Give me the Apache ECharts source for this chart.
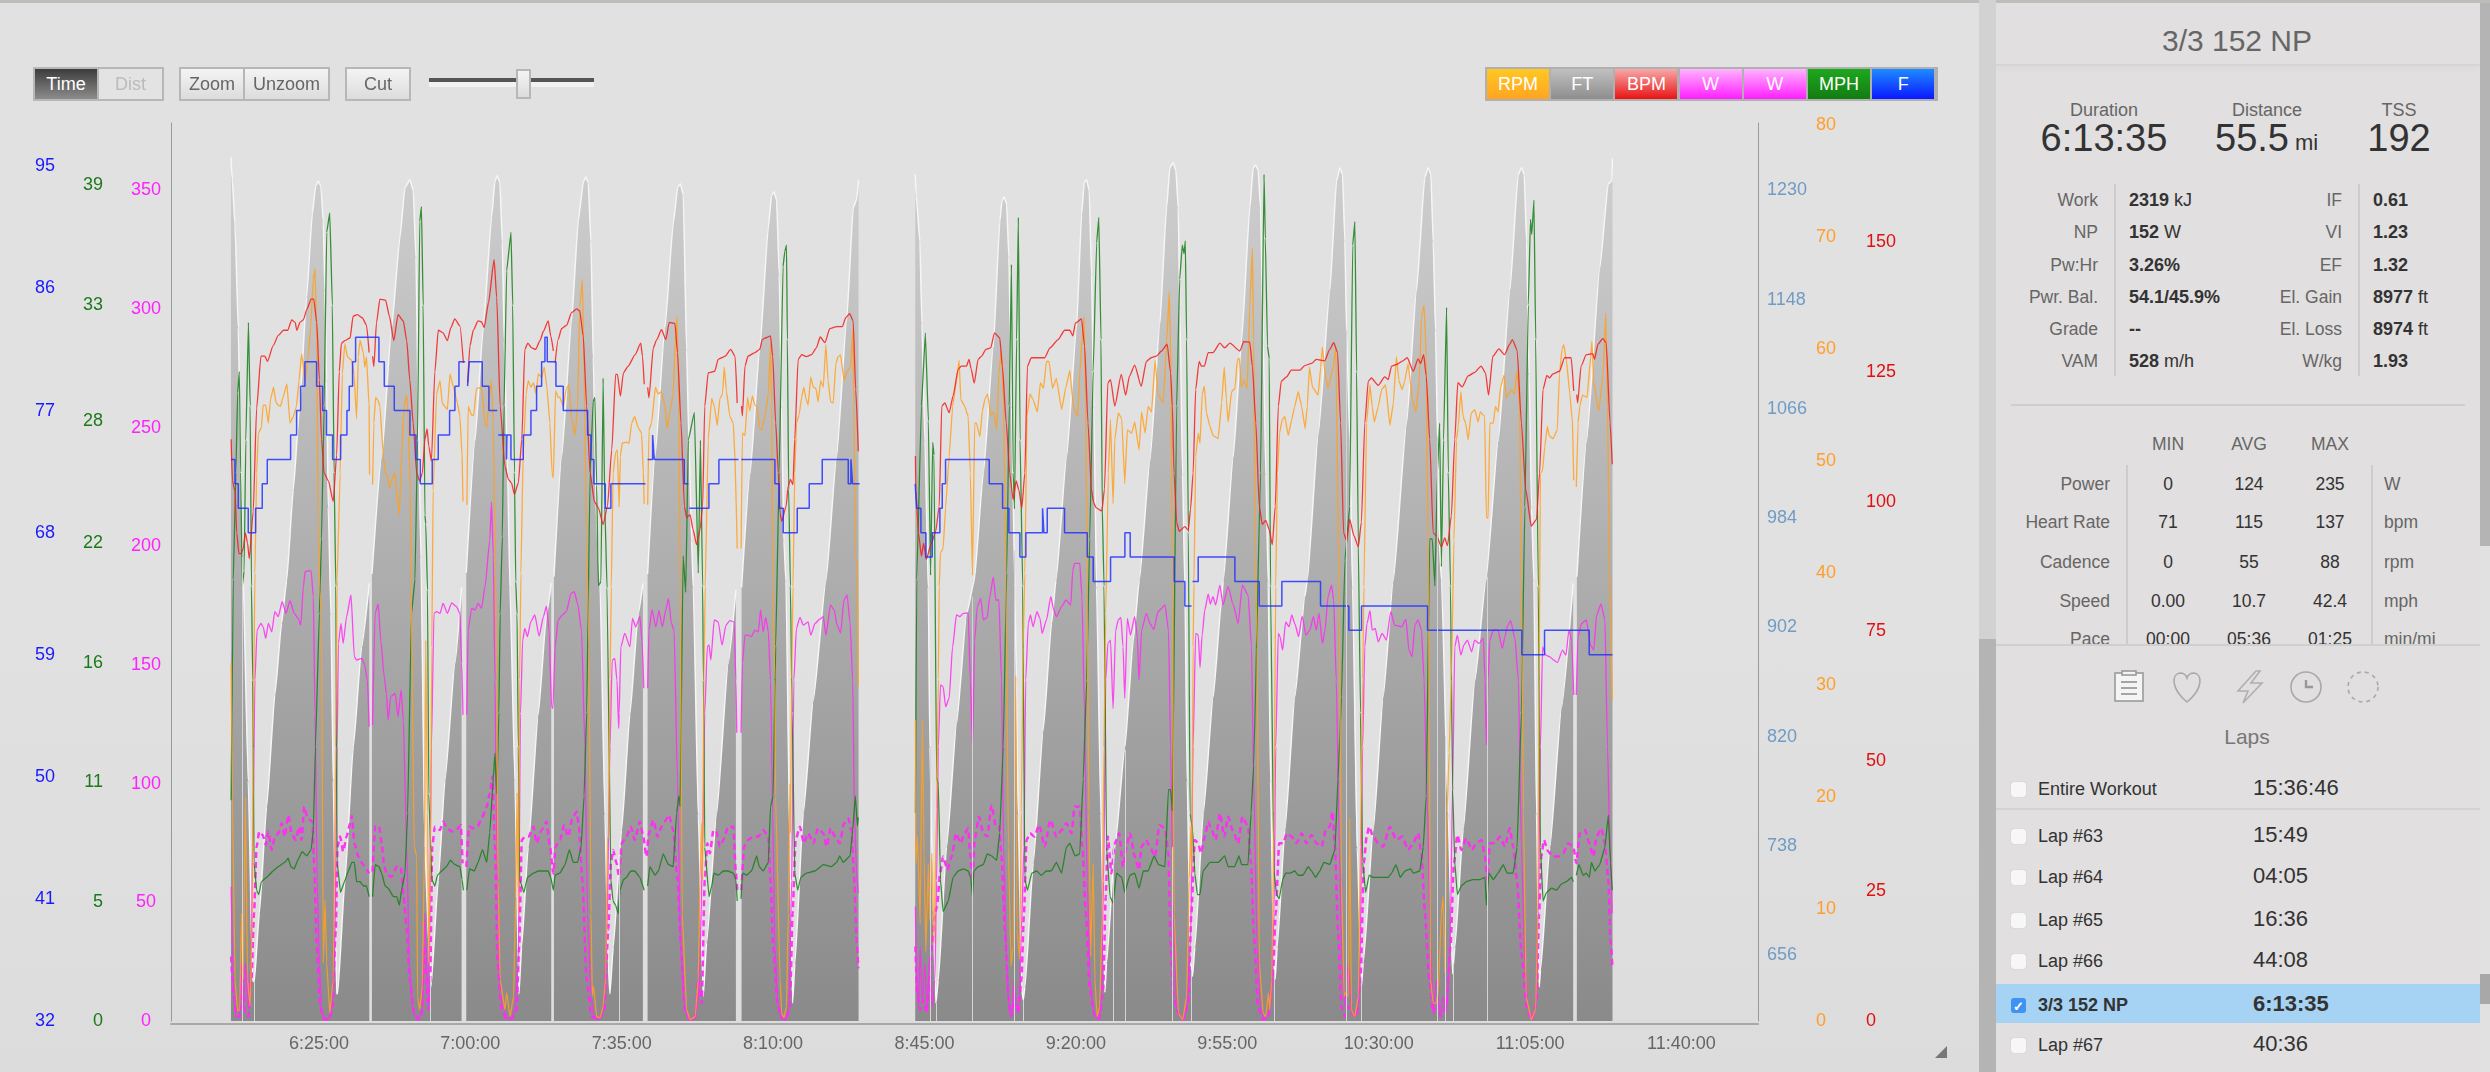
<!DOCTYPE html>
<html>
<head>
<meta charset="utf-8">
<title>3/3 152 NP</title>
<script src="https://cdn.jsdelivr.net/npm/echarts@6/dist/echarts.min.js"></script>
<style>
html, body { margin: 0; padding: 0; width: 2490px; height: 1072px; overflow: hidden; background: linear-gradient(#e2e1e1, #e2e1e1 60%, #dddcdc); font-family: "Liberation Sans", sans-serif; }
#chart { position: absolute; left: 0; top: 0; width: 2490px; height: 1072px; }
.box { position: absolute; box-sizing: border-box; }
.txt { position: absolute; white-space: pre; line-height: 1; }
.btn { position: absolute; box-sizing: border-box; height: 34px; top: 67px; border: 2px solid #b7b7b7; background: linear-gradient(#f4f4f4, #dcdcdc); color: #666; font-size: 18px; line-height: 30px; text-align: center; }
.leg { position: absolute; top: 69px; height: 30px; width: 62px; color: #fff; font-size: 18px; line-height: 30px; text-align: center; }
</style>
</head>
<body>
<div id="chart"></div>
<div id="ui"></div>
<script>
// tick labels
const timeTicks = [385, 420, 455, 490, 525, 560, 595, 630, 665, 700]
const tempTicks = [32, 41, 50, 59, 68, 77, 86, 95]
const speedTicks = [0, 5.57, 11.14, 16.71, 22.28, 28, 33.42, 39]
const powerTicks = [0, 50, 100, 150, 200, 250, 300, 350]
const elevTicks = [656, 738, 820, 902, 984, 1066, 1148, 1230]
const cadenceTicks = [0, 10, 20, 30, 40, 50, 60, 70, 80]
const hrTicks = [0, 25, 50, 75, 100, 125, 150]

// all series are [minute of day, value], null marks a pause in the recording
const elevation = [[364.66,1255],[364.97,1238],[365.58,1205],[366.35,1127],[366.97,1017],[367.35,955],[368.66,787],[369.67,637],[370.05,636],[371.21,687],[372.9,767],[374.83,852],[376.37,905],[377.53,937],[379.07,1005],[380.61,1072],[382.15,1150],[383.46,1212],[384.23,1233],[384.85,1237],[385.46,1233],[386,1207],[386.39,1155],[386.77,1087],[387.16,992],[387.77,912],[388.31,787],[389.09,627],[389.32,627],[391.01,712],[392.94,812],[394.86,887],[396.64,935],[397,null],[397.25,942],[399.49,1030],[401.8,1127],[403.73,1195],[404.88,1232],[406.04,1238],[406.81,1230],[407.43,1180],[407.96,1067],[408.58,955],[409.5,737],[410.43,662],[410.9,632],[412.59,712],[414.13,787],[416.44,875],[417.98,932],[418.5,null],[419.06,943],[421.07,1042],[422.99,1127],[424.92,1210],[425.69,1237],[426.23,1241],[426.84,1236],[427.38,1192],[427.85,1117],[428.62,1017],[429.16,932],[430.31,787],[431.24,627],[431.85,662],[433.39,737],[435.71,837],[437.63,912],[438.71,935],[439,null],[439.33,940],[441.1,1030],[443.41,1132],[444.95,1207],[446.11,1236],[446.65,1240],[447.26,1236],[447.88,1192],[448.42,1105],[449.19,980],[449.96,937],[451.12,762],[451.89,650],[452.27,627],[453.04,662],[454.97,750],[456.9,837],[458.82,912],[459.9,935],[460.4,null],[460.98,942],[462.68,1030],[464.99,1127],[466.92,1205],[467.92,1232],[468.53,1235],[469.23,1227],[470,1110],[470.54,1042],[471.15,967],[471.54,932],[472.7,762],[473.85,625],[474.62,665],[476.93,762],[479.63,875],[481.4,930],[482,null],[482.71,932],[484.64,1017],[486.95,1112],[488.88,1202],[489.65,1226],[490.19,1229],[490.8,1223],[491.42,1167],[491.96,1067],[492.5,967],[492.96,937],[493.89,737],[494.5,620],[495.04,650],[496.97,762],[499.28,847],[502.21,937],[504.67,1030],[506.99,1132],[508.53,1217],[509.3,1223],[509.76,1238],[510,null],[522.86,1242],[523.09,1226],[523.94,1192],[524.4,1130],[525.1,1042],[525.87,932],[526.25,812],[527.02,687],[527.64,620],[528.18,637],[530.1,737],[532.42,830],[534.73,912],[536.5,937],[538.58,1017],[540.89,1112],[542.43,1207],[542.9,1222],[543.36,1225],[543.98,1220],[544.51,1180],[545.13,1067],[545.9,932],[546.67,762],[547.44,632],[547.83,622],[548.21,632],[550.14,725],[552.45,825],[554.38,905],[555.38,937],[557.85,1030],[560.16,1127],[561.32,1212],[561.93,1236],[562.47,1238],[563.09,1230],[563.62,1167],[564.16,1067],[564.78,932],[565.78,762],[566.71,628],[567.09,650],[569.02,737],[571.33,812],[573.26,892],[574.65,937],[577.11,1027],[579.42,1130],[580.96,1217],[581.73,1247],[582.5,1251],[583.12,1245],[583.66,1217],[584.04,1142],[584.66,1017],[585.2,932],[585.74,787],[586.51,650],[586.97,640],[587.51,662],[589.44,762],[591.75,850],[593.67,922],[594.06,937],[596.37,1030],[598.3,1117],[600.22,1217],[600.99,1247],[601.53,1249],[602.15,1245],[602.69,1217],[603.31,1117],[603.92,1017],[604.46,937],[605,787],[605.77,650],[606.08,638],[606.54,662],[608.32,750],[610.63,850],[612.94,925],[613.48,937],[616.02,1047],[618.72,1155],[620.26,1237],[621.03,1247],[621.65,1242],[622.19,1192],[622.57,1125],[623.34,1042],[623.96,932],[625.04,737],[626.04,633],[626.43,650],[628.74,750],[631.05,850],[633.36,937],[636.44,1055],[638.75,1155],[640.68,1240],[641.45,1247],[642.07,1242],[642.61,1192],[643.15,1125],[643.61,1042],[644,967],[644.53,937],[646.07,762],[647.08,642],[647.62,662],[649.54,750],[652.24,862],[654.78,937],[657.63,1042],[660.33,1155],[662.26,1242],[663.03,1247],[663.65,1242],[664.19,1192],[664.8,1092],[665.34,992],[665.88,937],[666.5,762],[667.11,632],[667.42,645],[669.57,737],[672.27,842],[674.97,935],[675.4,null],[675.82,940],[678.06,1042],[681.14,1172],[683.07,1235],[683.91,1237],[684.06,1254]]

// short lap breaks in the recording: [minute, elevation where the mark stops]
const lapBreaks = [[367.35,955],[370.05,636],[410.82,640],[454.4,730],[526.25,812],[527.8,620],[536.04,925],[545.67,960],[547.83,622],[568.63,740],[571.33,810],[582.27,737],[586.74,645],[605.85,645],[622.57,1125],[625.88,640],[643.53,1045],[645.3,820],[647.23,650],[655.09,940]]

const temperature = [[364.66,73.4],[365.58,71.6],[366.35,69.8],[368.66,68],[370.36,69.8],[371.9,71.6],[373.06,73.4],[378.45,75.2],[379.84,77],[380.76,78.8],[381.76,80.6],[384.46,78.8],[385.85,77],[386.77,75.2],[388.16,73.4],[390.01,75.2],[391.47,77],[392.01,78.8],[392.78,80.6],[393.48,82.4],[398.87,80.6],[400.11,78.8],[402.42,77],[406.04,75.2],[407.43,73.4],[408.43,71.6],[411.2,73.4],[412.59,75.2],[415.21,77],[416.44,78.8],[417.37,80.6],[418.29,80.6],[418.8,null],[419.37,78.8],[419.75,80.6],[422.76,78.8],[424.3,77],[426.23,77],[426.3,null],[426.46,75.2],[428.38,73.4],[428.46,75.2],[429.39,73.4],[432.24,75.2],[434.01,77],[435.32,78.8],[436.48,80.6],[437.25,82.4],[437.79,80.6],[439.79,78.8],[441.49,77],[447.11,75.2],[447.88,73.4],[448.57,71.6],[451.2,69.8],[452.5,71.6],[460.2,71.6],[460.5,null],[460.98,73.4],[462.14,75.2],[462.52,73.4],[469.46,71.6],[470.23,71.6],[470.4,null],[470.62,69.8],[475.16,71.6],[477.47,73.4],[481.56,73.4],[482,null],[482.64,73.4],[490.42,71.6],[491.42,69.8],[492.35,68],[495.58,69.8],[498.36,71.6],[501.36,73.4],[507.37,71.6],[507.99,73.4],[508.37,71.6],[509.76,71.6],[510,null],[522.86,71.6],[523.17,69.8],[524.17,68],[525.33,66.2],[526.79,68],[528.56,69.8],[529.1,71.6],[529.87,73.4],[539.97,71.6],[543.05,69.8],[544.51,68],[547.06,66.2],[548.44,68],[552.3,69.8],[552.6,68],[553.38,69.8],[557.38,68],[562.63,66.2],[564.01,64.4],[568.02,66.2],[571.33,68],[572.56,66.2],[582.74,64.4],[585.2,62.6],[586.74,62.6],[586.85,null],[586.97,64.4],[588.28,66.2],[596.76,64.4],[602.38,62.6],[607.62,64.4],[616.56,62.6],[623.11,60.8],[626.04,62.6],[641.3,60.8],[663.1,59],[668.35,60.8],[678.67,59],[684.06,59]]

const heartRate = [[364.7,112],[365,104],[365.6,102],[366,94],[366.5,90],[367,90],[367.5,91],[368,94],[368.5,92],[368.9,89],[369.8,98],[370.6,118],[371.6,128],[372.5,128],[373.1,127],[374.4,130],[375.6,132],[376.8,133],[377.8,133],[378.7,135],[379.5,134.5],[379.9,133],[380.6,134.5],[381.4,135],[382.2,137],[383.2,139],[383.8,139],[384.5,134.5],[385.1,123.5],[385.6,112],[386.2,105.5],[387.2,104],[388.3,100],[389.1,109],[389.7,125],[390.2,130.5],[391,131],[392.2,131.5],[392.9,135.7],[393.9,136],[395,135.4],[396,134],[396.6,128.7],[397,null],[397.4,128],[397.7,126],[398.3,134.4],[399.1,139],[400.4,138.8],[401.3,135.7],[402.3,131],[403.3,136],[404.5,134.8],[405.3,131],[406,123.5],[406.8,115],[407.6,105.5],[408.3,104],[408.9,105.5],[409.5,112],[410,114],[410.4,110.7],[411,107.8],[411.8,125],[412.6,133],[413.7,132.5],[414.7,131],[415.5,133.5],[416.4,135.2],[417.6,133.8],[418.4,126.7],[418.9,null],[419.4,123],[419.9,130],[420.7,133],[421.8,134.8],[422.6,134.6],[423.2,133.5],[424.2,138.3],[425.5,146.6],[426.1,139.3],[426.9,118.4],[428,106.8],[428.8,104.3],[429.5,103.6],[430.2,101.4],[431.1,103.6],[431.9,112],[432.6,129.3],[433.3,130.5],[434.2,129.6],[435.1,129.3],[436.1,131],[436.9,132.8],[438,134.8],[438.6,131.9],[439.2,129],[439.4,null],[439.6,126.7],[440.3,131.2],[441.1,133.3],[442.3,134],[443.4,136.4],[444.6,137.1],[445.3,136.7],[446.1,131.9],[446.9,118.4],[447.7,105.5],[448.7,100],[449.6,98.8],[450.7,95.6],[451.7,99.1],[452.7,110],[453.6,124.5],[454,124.5],[454.7,120.3],[455.4,124.8],[456.5,126.1],[458.1,128.3],[459.4,130.5],[459.8,128],[460.2,122.6],[460.6,null],[461,122],[461.3,120],[462.3,129.6],[463.1,131.2],[464.2,133.1],[465.2,131.2],[466,134.5],[467.3,134.3],[467.9,128.7],[468.7,115.2],[469.5,99.1],[470,96.9],[470.8,97.5],[471.5,94.6],[472.3,91.7],[473.1,94.6],[473.7,99],[474.2,118.4],[475,124.8],[476.5,125.1],[477.3,127.4],[478.1,127.7],[478.9,128],[480.2,129.3],[481.2,128],[481.7,119],[482.2,null],[482.7,118.4],[482.9,116.5],[483.5,126.1],[484.2,128],[485.8,128.7],[486.9,129.3],[487.5,131.2],[488.5,131.6],[489.4,131.9],[489.9,128],[490.6,115.2],[491.2,105.5],[491.6,97.8],[492,96.2],[493,99.1],[493.5,103],[494,104.3],[494.6,103.3],[495,112],[495.8,127.4],[496.6,128.3],[497.7,127.9],[498.9,128.3],[500,129.6],[500.9,131.7],[502,130.6],[503.1,133.3],[504.7,133.7],[506,133.7],[506.8,135.4],[507.7,136.2],[508.5,134.8],[509.1,121.6],[509.7,109.7],[510,null],[522.9,108.8],[523,102.3],[523.6,94],[524.3,89.5],[524.8,92],[525.4,88.9],[526.6,92],[527.6,94.3],[528.4,99.1],[529,118.4],[529.7,119],[530.7,117.1],[531.6,120.3],[532.8,125.5],[533.5,126.1],[534.7,126.1],[535.3,127.4],[535.8,125.5],[536.5,122.8],[537.4,127.4],[538.2,128],[539.2,129.3],[540.3,129.6],[541.2,132.5],[542.4,131.5],[543,126.1],[543.9,115.2],[544.7,105.5],[545.5,100.4],[546.2,104],[546.8,102.3],[547.5,98.8],[548.2,105.5],[548.8,126.1],[549.7,127.7],[551.3,127.7],[552.8,127.7],[554,129.6],[555.9,131.2],[557.4,133],[558.6,133],[559.3,131.9],[559.9,134.4],[561.3,135.2],[562,130],[562.8,115.2],[563.6,102.3],[564.1,99.8],[564.7,98.8],[566,98.2],[566.6,102.3],[567.4,122.9],[568,123.5],[569,118.4],[570.5,124.5],[571.5,120.5],[572.4,124.2],[573.6,126.3],[575.1,122.2],[576.3,127],[577.4,127.7],[578.6,128],[579.8,129],[581.1,130.3],[581.9,124.8],[582.3,118.4],[582.7,105.5],[583.3,96],[583.9,94.3],[585.2,95.2],[586,94.5],[586.5,98.5],[587.1,105.5],[587.7,121.6],[588.5,127],[589,126.1],[589.7,126.1],[590.6,128.7],[591.7,128.7],[593.3,130.5],[594.4,129.6],[595.6,130.5],[597.9,129],[598.8,130.8],[600.2,130.7],[600.8,126.1],[601.6,115.2],[602.4,99.1],[603.1,95.6],[603.9,96.4],[604.7,94.6],[605.4,91.7],[606.1,99.1],[606.8,118.4],[607.5,123.2],[608.7,124],[609.8,125.3],[611.8,125.3],[612.9,126.2],[614.5,126.6],[615.6,127.4],[617.5,127.1],[618.7,129.3],[619.6,130.6],[620.5,128.7],[621.2,115.2],[621.9,94],[622.6,92.4],[623.3,96.6],[624.3,93.4],[625.3,91.3],[626,96],[626.8,115.2],[627.6,123.2],[628.3,123.8],[629.9,122.4],[631.4,124],[632.2,123.5],[633,126.1],[634.1,126.4],[635.6,127.1],[636.6,127.7],[638,125.1],[639.1,127.5],[639.7,126.6],[640.4,128.3],[641,124.2],[641.8,112],[642.6,94],[643.4,93.4],[644.5,91.3],[645.3,93],[645.9,91.5],[646.8,97.2],[647.6,112],[648.3,122.9],[649.3,122.1],[650.7,124.2],[652.2,124.9],[653.7,126.1],[654.7,124.8],[655.4,120.5],[656.4,128],[657.8,129.4],[659.1,128.3],[660.3,130.3],[660.9,131.2],[662,129.2],[663,115.2],[664,102.3],[665.3,95.3],[666.5,96.6],[667.2,105.5],[668,121.6],[668.9,124.3],[669.5,123.8],[670.3,124.6],[671.8,125.1],[673,127.7],[674.5,127.7],[675.1,121.3],[675.5,null],[675.8,120.6],[676,119],[676.8,126.1],[678,128.3],[679.5,128.5],[679.9,127.4],[680.7,130.3],[681.8,131.4],[682.6,130.6],[683.5,115.2],[684,107.2]]

const cadence = [[364.7,32],[365,20],[365.6,3.7],[366.2,0.9],[366.7,1],[367.1,9.6],[367.5,3.7],[368,20],[368.5,3.7],[369.1,1.3],[369.6,9.6],[369.8,24.5],[370.2,40],[370.6,48.9],[371,52.5],[371.7,53],[372.1,55],[372.7,55],[373.3,53.4],[373.8,55.5],[374.5,56.6],[375.1,55.2],[375.6,55],[376.1,54.9],[376.7,55.7],[377.6,56.9],[378.3,53.4],[379.1,54],[379.8,54.9],[380.4,57.2],[381,59.6],[381.8,57.2],[382.5,59.3],[383.1,62],[383.7,66.2],[384.1,67.2],[384.5,60.8],[384.8,44.4],[385.2,38.5],[385.6,36.4],[386,5.2],[386.4,10.8],[386.8,5.2],[387.5,0.7],[388.3,3.7],[388.9,24.5],[389.2,39.4],[389.9,48.9],[390.4,57.8],[391,60.5],[391.6,59.3],[392.6,59],[393.1,57.8],[393.7,53.8],[394.1,59.3],[394.5,60.8],[395.3,59.6],[395.6,58.4],[396,59.3],[396.6,54.9],[396.7,48.8],[397,null],[397.4,47.9],[397.7,53.4],[398.1,55.7],[398.7,55.4],[399.1,54.9],[399.9,50.4],[400.4,48.9],[400.9,48.6],[401.3,47.6],[401.8,48.3],[402.6,49],[402.9,47.4],[403.6,45.2],[404.1,50.4],[404.7,54.9],[405.3,55.9],[405.6,54],[406.1,47.4],[406.3,38.8],[406.6,30.5],[407,15.6],[407.6,14.7],[407.8,2.2],[408.3,1],[408.9,3.1],[409.4,15.6],[409.7,34],[410.1,18.6],[410.4,5.2],[410.8,15.6],[411.1,33.4],[411.4,47.4],[412.2,56],[413,57.2],[413.5,55.2],[414.1,54.9],[414.7,54.6],[415.3,57.8],[416.1,56.6],[417,55.2],[417.6,54],[418.1,50.4],[418.3,46.4],[418.8,null],[419.2,46.1],[419.5,54.9],[420.3,54.1],[420.8,54.1],[421.4,56.5],[422.6,56.6],[423.4,53.4],[423.8,53],[424.3,55.5],[424.9,57.2],[425.3,53.4],[425.8,40],[426.1,30.5],[426.4,12.6],[426.9,3.7],[428,1],[428.4,2.5],[429.2,0.4],[430,2.2],[430.5,11],[430.8,20.4],[431.1,9.6],[431.4,30.5],[431.7,40],[432.2,50.4],[432.9,56],[433.4,57.2],[434,56.6],[434.6,57],[435.2,56],[435.7,57.8],[436.5,57.5],[437.1,58.4],[437.7,56.6],[438.4,53.4],[438.9,48.9],[439.2,48.5],[439.7,56.3],[440.3,55.7],[440.7,55.7],[441.5,54.9],[442.2,56.5],[442.8,56.8],[443.5,53.7],[444.2,52.3],[444.8,54.9],[445.3,63.8],[445.9,66.2],[446.3,57.8],[446.9,42.9],[447.4,33.4],[447.9,9.6],[448.2,2.2],[448.5,3.1],[449.2,0.4],[450,0.3],[450.7,1.3],[451.3,4],[451.7,16.2],[452,16.5],[452.3,30.5],[452.6,38.8],[453,48.9],[453.6,50.8],[454,51],[454.4,45.9],[454.7,50.4],[455.1,51.6],[456.1,51.7],[456.7,51.6],[457.3,53.4],[458,54],[458.8,53],[459.6,52.5],[460,48.9],[460.2,46.2],[460.6,null],[461,46.1],[461.3,52.8],[461.9,53.4],[462.8,56.6],[463.4,56],[464.2,56.2],[465,54.9],[465.5,52.9],[466.1,54.3],[466.9,56],[467.4,60.8],[467.8,62.9],[468.2,54.9],[468.5,38.8],[469,9.6],[470,1],[470.8,0.1],[472,0.4],[472.7,3.7],[473.1,12.6],[473.5,17.7],[473.7,12.6],[474,30.5],[474.3,38.8],[475,51.9],[475.8,55.6],[476.4,54.9],[477.1,53.2],[477.7,55.6],[478.3,56],[478.7,58.4],[479.2,56.3],[480,54],[480.8,53.4],[481.2,50.1],[481.7,42.2],[482.1,null],[482.6,42.2],[482.9,52.5],[483.5,52.3],[484.1,55.7],[484.6,54.5],[485.2,55.8],[485.8,55],[486.3,54.9],[486.8,53],[487.3,52.8],[488.1,54],[488.9,56],[489.4,60.5],[489.7,54.9],[489.9,38.8],[490.4,30.5],[490.6,20],[491.6,3.7],[492,0.7],[492.5,0.3],[493.1,1.3],[493.5,9.6],[493.9,21.2],[494,16.8],[494.3,30.5],[494.6,38.8],[495,48.9],[495.4,53.4],[496,54.1],[496.6,55.7],[497.1,56.6],[497.6,55.6],[498.1,55],[498.7,57.5],[499.3,56.6],[499.9,56.5],[500.4,55.3],[501,57.2],[501.6,56.6],[502.2,60.4],[502.7,57.2],[503.3,55.3],[503.9,55.2],[504.5,58.7],[505,59.3],[505.6,59.5],[506.4,57.2],[507.1,58],[507.9,58.4],[508.4,61.7],[508.7,54.9],[509,41.5],[509.5,40.9],[509.7,29.9],[510,null],[522.9,26.9],[523,14],[523.4,16.5],[524,8.7],[524.5,26.9],[524.9,15],[525.3,6.2],[525.9,14.1],[526.2,9],[526.7,15],[527.2,6.9],[527.8,18.9],[528.2,30.5],[528.4,38.8],[528.7,41.8],[529.3,42.2],[529.9,45.9],[530.7,50.4],[531.5,54.9],[532.4,57.2],[533,59],[533.4,55.5],[534.3,54.9],[535.1,54],[535.6,48.9],[536.1,39.8],[536.6,53.4],[537,53.4],[537.8,52.2],[538.4,54.5],[539,55.6],[539.6,56],[540.3,54.1],[540.9,54.4],[541.7,52.8],[542.2,57.8],[542.8,59.9],[543.3,54.9],[543.8,40],[544.4,15.6],[545,4.9],[545.5,6.7],[546.1,30.8],[546.4,8.2],[547,5.5],[547.4,18.6],[547.8,33.4],[548.2,40],[548.7,54],[549.4,56],[550.1,55.5],[551.1,54.4],[551.8,57],[552.5,56.5],[553.2,58.9],[553.8,58.9],[554.6,56.5],[555.5,57.4],[556.7,54.6],[557.7,56.6],[558.6,58.1],[559.4,54.9],[560.4,54],[560.9,57.8],[561.5,61.4],[561.9,62.9],[562.3,54.9],[562.6,38.8],[563,18.6],[563.4,5.8],[564,14.1],[564.4,3.7],[564.9,0.4],[565.5,1.3],[566.1,9.6],[566.5,24.5],[566.9,36.4],[567.5,48.9],[568,53.7],[568.6,46.2],[569,51.9],[569.8,54.3],[570.6,53.8],[571.3,48],[571.9,52.8],[572.9,52.5],[573.6,53.5],[574.6,51],[575.2,54.4],[576,52.5],[576.7,54.9],[577.5,54.4],[578.3,59],[579,56],[580.2,55.2],[581,60.8],[581.6,65.1],[582,57.8],[582.3,40],[582.7,9.6],[583.7,0.7],[584.7,0.1],[585.6,2.2],[586.2,12.6],[586.6,17.4],[586.8,13.2],[587.1,33.4],[587.3,39.1],[587.7,50.4],[588.3,52.5],[588.7,51.6],[589.2,56],[589.7,56.7],[590.2,54.3],[591,53.1],[591.7,52.3],[592.9,52],[593.7,55.2],[594.3,58.4],[594.8,55.5],[595.2,53.5],[596,56.2],[596.8,56.5],[597.3,59],[597.8,59.2],[598.2,56.6],[598.8,57.2],[599.6,56.5],[600.2,63.8],[600.8,69],[601.1,60.8],[601.5,41.5],[601.9,33.4],[602.4,5.2],[603.3,0.7],[603.9,0.4],[604.5,2.5],[604.8,1],[605.3,3.7],[605.8,18.6],[606.2,38.8],[606.6,48.9],[607.1,52.5],[607.7,53.7],[608.3,54],[609.1,52.3],[609.9,53.7],[610.6,54.9],[611.4,56.2],[612.2,54.9],[613,52.9],[613.5,54.9],[614,58.4],[614.7,56.6],[616,55.9],[616.6,58.4],[617,60.2],[617.6,57.8],[618.3,56.5],[619.5,58.4],[620.1,60.2],[620.9,36.4],[621.4,12.6],[622,2.2],[622.3,2.5],[623,2.2],[623.3,18.1],[623.7,1],[624.5,0.4],[625.3,2.2],[625.8,15.6],[626.3,30.5],[626.6,38.8],[627.2,53.4],[628,56.8],[628.5,54.9],[629,53.5],[629.9,54.9],[630.7,56.4],[631.6,56.8],[632.6,53.2],[633.4,55.2],[634.1,59.3],[634.7,57.2],[635.4,56.4],[636,57.1],[636.8,58.7],[637.8,55.5],[638.6,54.4],[639.4,57.2],[639.9,62.9],[640.5,63.9],[641,59.3],[641.4,42.9],[641.7,27.5],[642,3.7],[642.6,1.6],[643.4,1.6],[643.8,2.8],[644.5,9.6],[644.9,11.1],[645.3,4.3],[645.8,18.6],[646.3,24],[646.8,30.5],[647.4,42.9],[648,51.9],[648.4,53.1],[649,56.2],[649.5,54],[650.1,53.4],[650.7,51.9],[651.4,54.3],[652.2,54.6],[653,53.5],[653.5,54.4],[654.5,54],[654.9,45],[655.3,44.9],[655.7,53.4],[656.5,53.4],[657,54.9],[657.6,54.4],[658.2,56.6],[659,57.7],[659.5,55.7],[660.7,56.4],[661.4,56],[662,58.1],[662.6,54.9],[663,38.8],[663.5,18.6],[664.1,2.2],[665.3,0.1],[666.3,1],[666.8,9.6],[667.1,30.5],[667.4,48.9],[667.9,49.2],[668.4,51.3],[669,53.1],[669.4,52.3],[670.3,52],[671.3,52.8],[671.8,57.8],[672.4,60],[672.8,60.4],[673.4,59],[674.2,56],[674.8,53.4],[675.1,48.3],[675.4,null],[675.7,47.7],[676.1,53.4],[676.5,54.9],[677.1,55.9],[678.2,55.7],[679,59.3],[679.3,60.7],[679.7,57.2],[680.5,55.2],[680.9,54.5],[681.9,57.8],[682.5,63.2],[682.9,54.9],[683.4,39.7],[684,28.7]]

const speed = [[364.7,10.3],[365.2,20.6],[365.8,25.6],[366.2,29.3],[366.6,30.3],[366.9,25.6],[367.3,20.3],[367.7,21],[368.1,27.1],[368.7,32.6],[369.1,28.7],[369.4,20.3],[369.7,15.9],[370,7.4],[370.6,6.1],[371.1,5.9],[371.7,6.5],[372.9,6.7],[374.4,7],[375.6,7.2],[377.1,7.4],[377.9,7.6],[378.5,7.2],[379.3,7.1],[380.1,7.5],[381.1,7.9],[382.2,7.7],[383.2,8],[383.7,8.9],[384.2,12.8],[385.1,19],[385.6,22.5],[386.2,28.7],[386.8,36.8],[387.5,37.7],[388.1,33.4],[388.5,25.6],[388.9,20.3],[389.2,7.4],[390,6],[390.9,6.5],[391.8,7],[392.6,7.4],[393.2,7.4],[393.7,6.5],[394.5,6.5],[395.3,6.3],[396,6.3],[396.6,5.8],[397,null],[397.4,5.8],[398,7.3],[398.9,7.2],[399.5,6.9],[400.3,6.3],[401,6.2],[402.2,5.8],[403,5.8],[403.6,5.4],[404.1,6.1],[404.9,6.9],[405.5,9.7],[406.4,19],[407.2,20.6],[407.8,27.1],[408.3,37.3],[408.7,38],[409.1,33.4],[409.5,23.6],[409.7,23.2],[410.1,20.1],[410.4,10.6],[411.1,6.6],[411.8,6.3],[412.4,6.8],[413.4,7],[414.5,7.2],[415.4,7.5],[416.4,7.3],[417.6,7.2],[418.1,6.6],[418.4,6.1],[418.8,null],[419.2,6.1],[419.8,7.1],[420.9,7],[421.8,7.4],[422.8,8],[423.8,7.4],[424.5,8.8],[425.3,11.3],[425.7,12.5],[426.1,10.6],[426.6,14.4],[426.9,19],[427.4,22.6],[427.8,28.7],[428.4,35],[429.4,36.8],[429.8,33.4],[430.2,25.6],[430.5,20.5],[430.8,19],[431.1,12.8],[431.4,6.6],[432.4,6],[433.2,6.7],[434.6,6.9],[435.7,7],[436.9,7],[438,7],[438.6,6.7],[439.2,6.1],[439.6,6.8],[440.7,6.9],[441.9,7.3],[442.9,8],[443.8,7.4],[444.8,7.4],[445.6,8.1],[446.3,10.5],[446.9,14.4],[447.7,25.6],[448.4,28.9],[448.8,29.1],[449.2,25],[449.6,20.3],[450.2,20.5],[450.7,30],[451.1,24],[451.6,20.2],[452.5,6.6],[453,5.6],[453.6,5.4],[454.2,5],[454.6,6.1],[455.4,6.6],[456.1,6.7],[457.1,7],[458,7],[459.2,6.7],[460.2,6.1],[460.6,null],[461,6.3],[461.5,7.2],[462.7,6.8],[463.5,7],[464.6,7.8],[465.8,7.3],[466.9,7.2],[467.7,9.7],[468.2,10.5],[468.5,10],[469.2,21.7],[469.8,20],[470.4,27.1],[471.8,28.4],[472.7,20.9],[473.2,27.1],[473.7,20.3],[473.9,15.9],[474.2,8.1],[475.2,5.8],[475.8,6.3],[476.3,6.9],[477.3,6.8],[478.5,7],[479.6,7],[480.8,6.9],[481.4,6.6],[481.7,5.6],[482.2,null],[482.6,5.7],[482.9,6.9],[483.9,6.8],[485,7],[486.2,7.7],[486.8,7.2],[487.7,7],[488.9,7.4],[489.4,10],[490,10.5],[490.6,17.5],[491.4,25.6],[492.3,35.2],[492.7,35.9],[493.1,36.2],[493.3,31.8],[493.6,24.8],[494,20.3],[494.4,14.4],[495,6.9],[495.7,6.1],[496.4,6.7],[497.7,6.9],[499.7,7],[501.6,7.3],[503.5,7.2],[504.7,7.4],[505.4,7.7],[506.2,7.4],[507.8,7.7],[508.4,8.9],[509,10.5],[509.5,9.1],[509.7,9.5],[510,null],[522.9,9.7],[523.2,20.6],[524.3,28.7],[525.2,32.1],[525.9,28],[526.4,20.8],[526.9,27],[527.2,26.4],[527.8,11.4],[528.2,11],[528.7,6.6],[529.3,5.1],[530.5,5.6],[531.6,6.7],[532.8,7],[534,7.1],[535.1,7],[535.7,6.7],[536.1,5.8],[536.4,7],[537.4,7.2],[538.6,7.3],[539.5,7.8],[540.5,7.7],[541.7,7.5],[542.4,8.8],[543.2,12.8],[544,20.9],[544.6,28.7],[545.1,35.3],[545.5,25.6],[545.8,23.9],[546.3,31.8],[546.7,37.5],[547.1,27.1],[547.7,20.3],[548.2,6.6],[548.8,6.1],[549.8,6.9],[550.9,7],[552,6.8],[553.2,7],[554.3,7],[555.5,7.4],[556.7,6.9],[557.8,8.1],[558.6,8.3],[559.8,7.7],[560.9,7.8],[561.7,11.3],[562.5,15.9],[563.2,22.5],[564,30.3],[564.8,36.3],[565.3,37.5],[565.8,31.8],[566.1,24],[566.5,20.3],[567.1,8.1],[567.9,5.8],[568.6,5.5],[569.4,6.9],[570.6,6.7],[571.3,6],[572.5,6.8],[573.6,6.9],[574.6,6.2],[575.6,7],[576.7,7],[578.1,7.7],[579.1,7.3],[580.6,7.2],[581.4,10.8],[581.9,10.8],[582.3,9.8],[583.3,28.7],[584,34.6],[584.6,36.2],[585,35.8],[585.3,36.4],[585.6,31.8],[586,22.8],[586.4,9.7],[587,8.9],[587.5,6.9],[588.1,5.9],[588.7,5.9],[589.4,7],[591,7.4],[592.9,7.4],[594.4,7.7],[595.2,7.2],[596.7,7.2],[597.7,7.7],[598.3,7.3],[599.8,7.3],[600.5,9.7],[601.1,11.9],[602.7,25.6],[603.5,39.5],[603.8,36.5],[604.3,31.5],[604.7,30.9],[605,20.3],[605.8,7],[606.4,5.9],[607,5.7],[607.8,6.6],[608.5,6.9],[609.5,6.9],[610.6,7],[611.4,6.8],[612.5,6.8],[613.7,7.2],[614.5,7],[615.4,6.7],[616.4,7],[617.3,7.4],[618.7,7.3],[619.9,8],[620.6,11.3],[621.4,15.1],[622.2,21.5],[623.3,24],[624,36.2],[624.5,37.3],[624.9,30.3],[625.3,22.2],[625.8,14.4],[626.3,7.4],[627,6],[627.8,6.8],[628.7,6.7],[629.9,6.7],[631,6.7],[632.2,6.7],[633,6.9],[634,7.3],[635,6.7],[636.1,7],[637.4,7.1],[638,6.9],[639.5,7],[640.3,8.1],[641,10.5],[641.8,22.5],[642.4,22.5],[643,20.3],[643.6,25.6],[644.1,27.9],[644.5,21.2],[645,27.1],[645.7,33.3],[646.1,25.6],[646.6,20.3],[647.1,10.8],[647.6,7.4],[648.2,5.9],[649.1,6.3],[650.3,6.5],[651.8,6.6],[653.4,6.6],[654.6,6.7],[654.9,5.4],[655.5,6.9],[656.5,6.6],[657.6,6.9],[658.8,7.3],[659.7,6.9],[661.1,6.9],[662,8.1],[663,14.4],[663.8,24],[664.6,33.4],[665.1,37.4],[665.4,36.7],[665.9,38.3],[666.3,31.8],[666.9,20.3],[667.4,8.1],[668,5.6],[668.8,6],[670,6.2],[671.1,6.1],[672.3,6.4],[673.4,6.5],[674.6,6.7],[675,6.5],[675.4,null],[675.7,6.8],[676.3,7.3],[677.3,6.8],[678,6.9],[678.7,6.7],[679.2,7.4],[680,7],[681.1,7.3],[682.3,8.1],[683.1,9.6],[683.6,7.4],[684,6.1]]

const power = [[364.7,56.6],[365.2,17.3],[365.7,1.9],[366.5,1.9],[367.1,17.3],[367.5,6],[368,24.3],[368.7,4.7],[369.3,24.3],[369.8,87.5],[370.2,143.7],[370.7,164.7],[371.6,167.5],[372.1,166.1],[372.7,161.2],[373.3,167.5],[374.1,164],[374.8,172.5],[375.6,170.4],[376.5,176.7],[377.4,171.8],[378.3,177.1],[379.3,171.8],[380.2,169.7],[380.8,166.8],[381.4,183],[381.8,189.3],[382.5,189.7],[383.2,189.7],[383.7,178.8],[384.1,129.6],[384.6,59.4],[385.1,24.3],[385.6,4.7],[386.4,0.5],[387.2,0.5],[387.9,4.7],[388.7,31.4],[389.2,115.6],[389.5,159.1],[390.1,167.5],[390.6,159.1],[391.4,170.4],[392.4,179.5],[393.2,153.5],[393.7,152.1],[394.9,152.8],[395.6,150],[396.2,143.7],[396.6,124],[397,null],[397.4,124.7],[398,171.8],[398.7,175.7],[399.3,160.5],[400.1,145],[400.6,138],[401,126.8],[401.6,136.7],[402.6,138],[403.3,128.2],[404,139.5],[404.5,126.8],[405.3,73.5],[405.9,24.3],[406.6,4.7],[407.4,1.9],[408.2,1.9],[408.9,4.7],[409.5,45.4],[410,13.1],[410.4,6],[411,115.6],[411.6,171.8],[412.2,172.5],[413,171.8],[413.7,176],[414.7,171.8],[415.7,176.2],[416.8,174.6],[417.6,171.8],[418,150.7],[418.3,129],[418.8,null],[419.2,129],[419.5,164.7],[420.3,173.9],[421.1,173.2],[421.8,176],[422.6,173.9],[423.4,183],[424.5,202.6],[424.9,218.7],[425.3,196.6],[425.7,143.7],[426.1,73.5],[426.9,10.3],[427.6,6],[428.6,1.2],[429.5,1.2],[430.3,4.7],[431.1,24.3],[431.6,129.6],[432.1,160.5],[432.6,165.4],[433.2,162],[434,168.3],[434.9,171.1],[435.9,162.2],[436.9,170.4],[437.6,174.8],[438.2,164.7],[438.8,132.4],[439.1,131.7],[439.6,157.7],[440.3,169],[441.3,171.1],[442.2,172.5],[443.3,180.2],[444,180.9],[444.8,176],[445.7,164.7],[446.5,115.6],[447.1,45.4],[447.9,10.3],[448.6,1.9],[449.7,0.5],[450.7,3.3],[451.5,31.4],[452.3,115.6],[452.8,152.1],[453.4,152.8],[453.9,143.7],[454.3,123.3],[454.4,129.6],[454.8,157.7],[455.7,163.3],[456.9,157.7],[457.5,169.7],[458.2,166.1],[459.2,170.4],[459.7,160.5],[460.1,140.2],[460.5,null],[461,140.2],[461.3,164.7],[462,173.2],[462.9,166.1],[463.6,172.9],[464.4,166.1],[465.2,173.2],[465.8,178],[466.5,167.5],[467.1,164.7],[467.9,101.6],[468.6,31.4],[469.5,6],[470.5,0.5],[471.5,0.5],[472.5,6],[473.1,24.3],[473.7,73.5],[474.2,129.6],[474.8,157.7],[475.2,158.4],[475.6,152.1],[476.4,169],[477.3,168.2],[478.2,158.4],[479.1,166.8],[480,168.7],[481,168.2],[481.4,143.7],[481.6,121.5],[482.1,null],[482.6,121.5],[482.9,150.7],[483.5,162.6],[484.2,162.6],[485,162],[485.8,164.7],[486.6,164],[487.1,173.2],[487.7,164],[488.3,170.1],[488.9,164],[489.4,143.7],[489.9,87.5],[490.4,31.4],[491.2,4.7],[492,1.2],[493,0.5],[493.7,6],[494.3,59.4],[494.8,143.7],[495.4,165.4],[496.2,170.1],[497,166.8],[498.1,168.2],[498.7,162.6],[499.7,167.5],[500.7,169.2],[501.6,170.4],[502.2,162.6],[503.3,175.3],[504.1,173.2],[504.8,166.8],[505.6,163.6],[506.4,177.4],[507.1,179.5],[507.8,167.5],[508.4,143.7],[508.8,87.5],[509.3,62.2],[509.7,53.8],[510,null],[522.9,48.2],[523.2,17.3],[523.6,6],[524,31.4],[524.5,7.5],[525.1,24.3],[525.6,4.7],[526.2,27.1],[526.8,6],[527.4,17.3],[527.8,59.4],[528.2,115.6],[528.7,141.6],[529.3,140.9],[529.9,132.4],[530.7,136],[531.5,157.7],[532.4,171.1],[533.2,170.4],[534,171.8],[535.1,172],[535.6,143.7],[536.1,114.9],[536.6,160.5],[537.2,174.6],[538,178],[538.6,169],[539.5,170.1],[540.1,178.8],[540.9,187],[541.5,177.4],[542.2,177.4],[542.8,143.7],[543.3,73.5],[544,24.3],[544.6,3.3],[545.2,1.9],[545.7,17.3],[546.3,4.7],[546.9,7.5],[547.4,38.4],[548,73.5],[548.4,143.7],[549,167.5],[549.5,171.1],[550.1,166.1],[551,172.5],[551.7,169.7],[552.2,163.3],[553.2,169],[554.2,178.8],[554.9,173.2],[555.5,170.4],[556.7,174.6],[557.7,177.4],[558.8,175.3],[559.3,190],[559.7,192.8],[560.9,192.8],[561.4,178.8],[562,129.6],[562.6,59.4],[563.3,17.3],[564.1,3.3],[565.1,0.8],[565.9,6],[566.4,59.4],[566.9,143.7],[567.4,159.1],[568,160.5],[568.6,131.7],[569.2,164.7],[569.8,169],[570.4,170.1],[570.9,157.7],[571.3,136],[571.9,169.7],[572.6,162.6],[573.6,170.4],[574.2,162],[574.6,143.7],[575.2,164.7],[576.3,171.8],[577.1,167.5],[578,165],[579,172.5],[579.8,173.9],[580.6,175.3],[581.4,164.7],[581.9,115.6],[582.5,45.4],[583.3,4.7],[584.7,0.5],[585.7,4.7],[586.5,31.4],[587.1,115.6],[587.7,163.3],[588.3,162.6],[588.7,149],[589.2,162.6],[589.8,173.2],[590.6,179.9],[591.1,175.7],[591.7,178.8],[592.3,175.3],[593.3,183.7],[594,175.3],[595.2,183],[596.4,175.3],[597.5,167.5],[598.5,183.7],[599.8,179.5],[600.6,157.7],[601.1,101.6],[601.9,31.4],[602.7,4.7],[603.7,0.5],[604.7,3.3],[605.2,10.3],[605.8,45.4],[606.2,115.6],[606.8,163.3],[607.2,162],[607.8,156.3],[608.5,168.2],[609.3,166.1],[609.9,171.1],[610.6,167.5],[611.5,162],[612.3,170.6],[613.2,162.6],[614.1,164.7],[614.9,170.4],[615.6,164.7],[616.2,171.8],[617,159.1],[617.6,164.7],[618.3,178.8],[619.1,183.7],[619.6,177.4],[620.2,143.7],[620.9,73.5],[621.5,24.3],[622.2,6],[623,24.3],[623.7,4.7],[624.7,1.9],[625.6,10.3],[626.3,115.6],[626.8,157.7],[627.3,167.5],[628,172.9],[628.5,164.7],[629.2,165.4],[629.9,159.8],[630.8,163.3],[631.8,160.5],[632.8,172.5],[633.7,166.8],[635.3,166.1],[636.3,169.2],[637,156.3],[637.7,153.5],[638.4,166.8],[639.1,169],[639.9,164.7],[640.5,143.7],[641.2,94.5],[642,31.4],[642.6,4.7],[643.4,17.3],[644.1,1.9],[644.9,10.3],[645.7,3.3],[646.5,31.4],[647.1,98.8],[647.6,157.7],[648.2,162.6],[649,154.2],[649.7,158.4],[650.5,160.5],[651.5,155.6],[652.2,160.5],[653.2,159.1],[654.2,161.2],[654.6,143.7],[654.9,116.3],[655.3,143.7],[655.7,160.5],[656.5,164.7],[657.6,164.7],[658.6,157],[659.2,162],[659.7,166.1],[660.5,168.7],[661.5,161.2],[662.3,143.7],[663,73.5],[663.8,24.3],[664.6,4.7],[665.6,0.5],[666.3,4.7],[666.9,45.4],[667.4,115.6],[667.9,157.7],[668.6,154.2],[669.5,153.5],[670.5,152.1],[671.3,151],[672.5,156.3],[673.3,154.2],[674,164.7],[674.6,160.5],[675.1,137.4],[675.4,null],[675.7,137.4],[676.1,162],[676.9,167.5],[678,169],[679,158.4],[679.7,156.3],[680.4,171.1],[681.4,175.7],[682.3,169],[682.9,115.6],[683.5,73.5],[684,45.4]]

const legPower = [[364.7,27.2],[365.2,11.7],[366,1.9],[366.7,1.9],[367.3,24.3],[367.9,3.3],[368.7,1.9],[369.4,17.3],[370,45.4],[370.6,73.5],[371.2,79.8],[372,78.4],[372.7,74.2],[373.3,79.8],[374.1,72.1],[374.8,77.7],[375.6,79.1],[376.4,83.3],[377.1,77.7],[377.9,86.8],[378.7,79.1],[379.6,76.3],[380.5,81.9],[381,76.3],[381.6,90.3],[382.4,85.4],[383.5,84],[383.9,66.5],[384.5,31.4],[385.2,7.5],[386,1.2],[387.2,0.5],[388.1,4.7],[388.9,38.4],[389.3,73.5],[389.9,77.7],[390.6,71.4],[391.4,77.7],[392.2,83.3],[392.6,86.4],[393.2,74.9],[394.1,69.3],[395,66.5],[396,63.7],[396.6,62.2],[397,null],[397.4,63],[398,81.9],[398.9,82.2],[399.5,74.9],[400.1,65],[400.8,61.5],[401.8,60.8],[403,65],[403.9,65],[404.6,52.4],[405.3,38.4],[406,17.3],[407,3.3],[408,0.5],[408.7,1.9],[409.5,31.4],[410.3,4.7],[410.7,14.5],[411.2,73.5],[411.8,81.9],[413,80.5],[413.7,84],[414.7,81.2],[415.7,79.8],[416.8,80.5],[417.8,82.6],[418.2,66.5],[418.7,null],[419.1,65],[419.7,81.9],[420.7,81.2],[421.7,81.9],[422.6,85.4],[423.8,90.3],[424.5,96],[425.1,103],[425.7,73.5],[426.3,24.3],[427.2,4.7],[428.4,0.5],[429.7,1.2],[430.7,4.7],[431.3,31.4],[431.9,76.3],[432.6,77.7],[433.5,77.7],[434.6,81.9],[435.3,74.9],[436.5,80.5],[437.6,84],[438.4,73.5],[439.2,62.2],[439.7,73.5],[440.7,76.3],[441.7,82.6],[442.6,77.7],[443.6,85.4],[444.6,88.2],[445.1,81.9],[445.9,59.4],[446.9,17.3],[448,1.9],[449.6,0.5],[451,4.7],[451.9,38.4],[452.5,66.5],[453,72.1],[453.8,66.5],[454.4,60.8],[455,74.9],[456.1,77.7],[457.1,81.9],[458,76.3],[459.2,84],[460,77.7],[460.7,69.3],[461.3,79.1],[462.3,84.7],[463.3,77.7],[464.2,81.9],[465.2,84.7],[465.9,86.8],[466.9,80.5],[467.9,59.4],[468.7,31.4],[469.6,4.7],[470.8,0.5],[472,1.2],[472.7,17.3],[473.5,7.5],[474.2,59.4],[474.8,74.9],[475.4,70.7],[476.2,80.5],[476.9,79.8],[477.7,73.5],[478.5,76.3],[479.6,81.9],[480.8,81.9],[481.4,62.2],[481.7,55.2],[482.2,null],[482.7,55.2],[483.3,73.5],[484.2,76.3],[485.4,77.7],[486.6,77.7],[487.7,80.5],[488.9,77.7],[489.4,59.4],[490,31.4],[491,7.5],[492,1.2],[493,0.5],[493.9,6],[494.5,45.4],[495.2,76.3],[496.2,81.9],[497.1,74.9],[498.1,79.1],[499.3,74.9],[500.4,81.2],[501.6,79.1],[502.4,73.5],[503.3,81.2],[504.3,77.7],[505.4,74.9],[506.4,83.3],[507.4,85.4],[508.1,80.5],[508.7,62.2],[509.3,34.2],[509.7,22.2],[510,null],[522.9,31.4],[523.3,11.7],[524,4.7],[524.7,8.9],[525.5,3.3],[526.2,17.3],[526.8,32.8],[527.4,45.4],[527.9,48.2],[528.6,62.2],[529.3,69.3],[530.3,63.7],[531.3,69.3],[532.3,79.1],[533.3,74.9],[534.3,79.1],[535.1,81.2],[535.6,69.3],[536.1,59.4],[536.6,76.3],[537.6,86.1],[538.6,79.1],[539.5,77.7],[540.5,91],[541.5,81.9],[542.3,81.9],[542.8,69.3],[543.6,38.4],[544.4,10.3],[545.1,1.9],[545.9,10.3],[546.7,3.3],[547.4,17.3],[548,45.4],[548.6,76.3],[549.4,79.1],[550.4,77.7],[551.5,82.6],[552.8,73.5],[554.1,84.7],[555.5,77.7],[556.7,80.5],[557.8,83.3],[559,79.1],[559.7,90.3],[560.9,90.3],[561.5,73.5],[562.3,45.4],[563.2,13.1],[564.4,1.9],[565.4,0.8],[566.3,13.1],[566.9,52.4],[567.4,77.7],[568.2,62.2],[569,74.9],[570,79.1],[570.9,65],[571.7,73.5],[572.5,79.1],[573.6,69.3],[574.6,63.7],[575.2,73.5],[576.2,76.3],[577.1,73.5],[578.3,69.3],[579.3,82.6],[580.6,81.2],[581.4,70.7],[581.9,31.4],[582.5,10.3],[583.7,3.3],[584.8,0.5],[586,7.5],[586.7,45.4],[587.5,76.3],[588.3,74.9],[588.9,70.7],[589.8,77.7],[590.6,84],[591.4,80.5],[592.3,76.3],[593.3,87.5],[594.3,77.7],[595.2,86.1],[596.2,80.5],[597.5,74.9],[598.5,86.1],[599.8,81.9],[600.5,66.5],[601.1,38.4],[602.1,6],[603.3,0.5],[604.5,1.9],[605.5,17.3],[606.2,45.4],[607,74.9],[607.9,74.9],[608.8,79.1],[609.9,77.7],[611,74.9],[612.2,79.1],[613.3,74.9],[614.5,78.4],[615.6,74.9],[616.8,73.5],[617.8,80.5],[618.7,81.9],[619.3,88.2],[619.9,73.5],[620.6,38.4],[621.4,6],[622.2,1.9],[623,6],[623.7,3.3],[624.9,1.9],[625.8,17.3],[626.6,66.5],[627.2,77.7],[627.8,81.9],[628.7,77.7],[629.9,74.9],[631,73.5],[632.6,81.9],[634.1,76.3],[635.5,77.7],[636.8,72.1],[638,74.9],[639.1,79.1],[639.9,70.7],[640.7,45.4],[641.7,17.3],[642.6,3.3],[643.4,7.5],[644.5,1.9],[645.7,7.5],[646.6,31.4],[647.4,66.5],[648.2,78.4],[649.1,72.1],[650.3,77],[651.5,72.1],[652.6,74.9],[653.8,76.3],[654.6,69.3],[655.1,59.4],[655.7,74.9],[656.9,74.9],[658,77.7],[659.2,73.5],[660.3,81.2],[661.1,73.5],[662,59.4],[663,28.5],[664.2,6],[665.3,0.5],[666.5,7.5],[667.1,45.4],[667.6,69.3],[668.2,76.3],[669.2,71.4],[670.3,69.3],[671.5,69.3],[672.7,70.7],[673.8,74.9],[675,73.5],[675.7,66.5],[676.5,79.1],[677.7,80.5],[678.7,74.9],[679.6,69.3],[680.4,77.7],[681.5,81.2],[682.3,74.9],[683.1,59.4],[683.6,34.2],[684,23.6]]

// summary panel
const summaryRowsLeft = [['Work', '2319', ' kJ'], ['NP', '152', ' W'], ['Pw:Hr', '3.26%', ''], ['Pwr. Bal.', '54.1/45.9%', ''], ['Grade', '--', ''], ['VAM', '528', ' m/h']]
const summaryRowsRight = [['IF', '0.61', ''], ['VI', '1.23', ''], ['EF', '1.32', ''], ['El. Gain', '8977', ' ft'], ['El. Loss', '8974', ' ft'], ['W/kg', '1.93', '']]
const rangeRows = [['Power', '0', '124', '235', 'W'], ['Heart Rate', '71', '115', '137', 'bpm'], ['Cadence', '0', '55', '88', 'rpm'], ['Speed', '0.00', '10.7', '42.4', 'mph'], ['Pace', '00:00', '05:36', '01:25', 'min/mi']]
const lapRows = [['Lap #63', '15:49'], ['Lap #64', '04:05'], ['Lap #65', '16:36'], ['Lap #66', '44:08'], ['3/3 152 NP', '6:13:35'], ['Lap #67', '40:36']]
const legendButtons = [['RPM', '#ffc823', '#ffa423'], ['FT', '#c0c0c0', '#8e8e8e'], ['BPM', '#f8a8a8', '#e81414'], ['W', '#ffb4ff', '#ff1eff'], ['W', '#ffb4ff', '#ff1eff'], ['MPH', '#1ea81e', '#127c12'], ['F', '#1e8cff', '#0a18ff']]

let chart = echarts.init(document.querySelector('#chart'), null, { renderer: 'canvas' })

function timeLabel(value) {
    let h = Math.floor(value / 60)
    let m = Math.round(value - h * 60)
    return h + ':' + String(m).padStart(2, '0') + ':00'
}

function valueAxis(position, min, max, ticks, color, margin, align, showLine, formatter) {
    return {
        type: 'value',
        position: position,
        min: min,
        max: max,
        splitLine: { show: false },
        axisTick: { show: false },
        axisLine: { show: showLine, onZero: false, lineStyle: { color: '#9a9a9a', width: 1 } },
        axisLabel: { customValues: ticks, color: color, margin: margin, align: align, fontSize: 18, fontFamily: 'Liberation Sans', formatter: formatter || ((v) => String(v)) }
    }
}

function lineSeries(name, data, axis, color, width, extra) {
    return Object.assign({
        name: name,
        type: 'line',
        data: data,
        yAxisIndex: axis,
        showSymbol: false,
        silent: true,
        connectNulls: false,
        smooth: 0.2,
        smoothMonotone: 'x',
        lineStyle: { color: color, width: width, opacity: 0.85 }
    }, extra)
}

let option = {
    animation: false,
    backgroundColor: 'transparent',
    grid: { left: 171, right: 732, top: 123, bottom: 51 },
    xAxis: {
        type: 'value',
        min: 350.8,
        max: 717.7,
        offset: 3,
        splitLine: { show: false },
        axisTick: { show: false },
        axisLine: { onZero: false, lineStyle: { color: '#a8a8a8', width: 2 } },
        axisLabel: { customValues: timeTicks, color: '#666', fontSize: 18, fontFamily: 'Liberation Sans', margin: 11, formatter: timeLabel }
    },
    yAxis: [
        valueAxis('left', 32, 98.2, tempTicks, '#1a1aff', 126, 'center', true),
        valueAxis('left', 0, 41.9, speedTicks, '#1a7a1a', 68, 'right', false, (v) => String(Math.floor(v))),
        valueAxis('left', 0, 378.4, powerTicks, '#ff22ff', 25, 'center', false),
        valueAxis('right', 606.5, 1280.6, elevTicks, '#6f9bc4', 9, 'left', true),
        valueAxis('right', 0, 80.2, cadenceTicks, '#ff9e2a', 58, 'left', false),
        valueAxis('right', 0, 172.9, hrTicks, '#e01010', 108, 'left', false)
    ],
    series: [
        lineSeries('FT', elevation, 3, '#ffffff', 1.5, {
            origin: 'start',
            smooth: 0.15,
            lineStyle: { color: '#f6f6f6', width: 1.5 },
            areaStyle: {
                opacity: 1,
                color: { type: 'linear', x: 0, y: 0, x2: 0, y2: 1, colorStops: [{ offset: 0, color: '#cfcfcf' }, { offset: 1, color: '#8a8a8a' }] }
            },
            markLine: {
                silent: true,
                symbol: 'none',
                label: { show: false },
                lineStyle: { color: '#d4d4d4', width: 1, type: 'solid' },
                data: lapBreaks.map((b) => [{ coord: [b[0], 606.5] }, { coord: [b[0], b[1]] }])
            }
        }),
        lineSeries('W', legPower, 2, '#ff2cf4', 2.5, { lineStyle: { color: '#ff2cf4', width: 2.5, type: [6, 4], opacity: 0.95 } }),
        lineSeries('W', power, 2, '#ff2cf4', 1.3),
        lineSeries('MPH', speed, 1, '#17801a', 1.3, { smooth: 0.1 }),
        lineSeries('RPM', cadence, 4, '#ffa020', 1.3, { smooth: 0.1 }),
        lineSeries('BPM', heartRate, 5, '#f41c1c', 1.3),
        lineSeries('F', temperature, 0, '#2232ff', 1.5, { step: 'end', smooth: false })
    ]
}
chart.setOption(option)

// everything around the plot: toolbar, legend buttons and the summary column
const ui = document.querySelector('#ui')

function box(x, y, w, h, css) {
    let el = document.createElement('div')
    el.className = 'box'
    el.style.cssText = `left:${x}px;top:${y}px;width:${w}px;height:${h}px;` + (css || '')
    ui.appendChild(el)
    return el
}

function text(str, x, y, size, color, align, bold) {
    let el = document.createElement('div')
    el.className = 'txt'
    el.textContent = str
    let shift = align === 'right' ? '-100%' : align === 'center' ? '-50%' : '0'
    el.style.cssText = `left:${x}px;top:${y}px;font-size:${size}px;color:${color};transform:translate(${shift},-50%);` + (bold ? 'font-weight:bold;' : '')
    ui.appendChild(el)
    return el
}

function button(label, x, w, css) {
    let el = document.createElement('div')
    el.className = 'btn'
    el.textContent = label
    el.style.cssText = `left:${x}px;width:${w}px;` + (css || '')
    ui.appendChild(el)
}

box(0, 0, 2490, 3, 'background:#bdbdb9;')

// toolbar
button('Time', 33, 66, 'background:linear-gradient(#3c3c3c,#8c8c8c);color:#fff;')
button('Dist', 97, 67, 'background:#e3e3e3;color:#bbb;')
button('Zoom', 179, 66)
button('Unzoom', 243, 87)
button('Cut', 345, 66)
box(429, 78, 165, 4, 'background:#555;')
box(429, 82, 165, 5, 'background:#f2f2f2;')
box(516, 69, 15, 30, 'background:linear-gradient(#f4f4f4,#dcdcdc);border:2px solid #b7b7b7;')

// legend buttons
box(1485, 67, 453, 34, 'background:#b0b0b0;')
legendButtons.forEach((b, i) => {
    let el = document.createElement('div')
    el.className = 'leg'
    el.textContent = b[0]
    el.style.cssText = `left:${1487 + i * 64.2}px;background:linear-gradient(${b[1]},${b[2]});`
    ui.appendChild(el)
})

// resize grip
box(1935, 1046, 12, 12, 'background:#777;clip-path:polygon(100% 0,100% 100%,0 100%);')

// right column
box(1979, 0, 17, 639, 'background:#d3d2d2;')
box(1979, 639, 17, 433, 'background:#b4b4b4;')
box(1996, 3, 484, 1069, 'background:#e1dfdf;')
box(2480, 3, 10, 543, 'background:#b4b4b4;')
box(2480, 546, 10, 526, 'background:#e2e1e1;')
box(2480, 974, 10, 30, 'background:#a8a8a8;')

box(1996, 64, 484, 2, 'background:#d6d5d5;box-shadow:0 3px 6px rgba(0,0,0,0.06);')
text('3/3 152 NP', 2237, 41, 30, '#666', 'center')

text('Duration', 2104, 110, 18, '#666', 'center')
text('6:13:35', 2104, 138, 38, '#333', 'center')
text('Distance', 2267, 110, 18, '#666', 'center')
text('55.5', 2215, 138, 38, '#333', 'left')
text('mi', 2295, 143, 22, '#333', 'left')
text('TSS', 2399, 110, 18, '#666', 'center')
text('192', 2399, 138, 38, '#333', 'center')

box(2114, 184, 2, 192, 'background:#ccc;')
box(2358, 184, 2, 192, 'background:#ccc;')
const rowY = [200, 232, 264.5, 297, 329, 361]
function summaryRow(row, y, labelX, valueX) {
    text(row[0], labelX, y + 1, 17.5, '#666', 'right')
    let el = text(row[1], valueX, y, 18, '#333', 'left', true)
    if (row[2]) {
        let unit = document.createElement('span')
        unit.textContent = row[2]
        unit.style.fontWeight = 'normal'
        el.appendChild(unit)
    }
}
summaryRowsLeft.forEach((r, i) => summaryRow(r, rowY[i], 2098, 2129))
summaryRowsRight.forEach((r, i) => summaryRow(r, rowY[i], 2342, 2373))

box(2011, 404, 454, 2, 'background:#cfcece;')

text('MIN', 2168, 445, 17.5, '#666', 'center')
text('AVG', 2249, 445, 17.5, '#666', 'center')
text('MAX', 2330, 445, 17.5, '#666', 'center')
box(2126, 465, 2, 179, 'background:#ccc;')
box(2371, 465, 2, 179, 'background:#ccc;')
const rangeY = [484.5, 523.4, 563, 601.6, 640]
rangeRows.forEach((r, i) => {
    text(r[0], 2110, rangeY[i], 17.5, '#666', 'right')
    text(r[1], 2168, rangeY[i], 17.5, '#333', 'center')
    text(r[2], 2249, rangeY[i], 17.5, '#333', 'center')
    text(r[3], 2330, rangeY[i], 17.5, '#333', 'center')
    text(r[4], 2384, rangeY[i], 17.5, '#666', 'left')
})

// lower section covers the clipped Pace row
box(1996, 644, 484, 428, 'background:#e1dfdf;border-top:2px solid #d0cfcf;')
let icons = box(2110, 668, 275, 40)
icons.innerHTML = `<svg width="275" height="40" viewBox="0 0 275 40" fill="none" stroke="#a9a9a9" stroke-width="1.6">
<rect x="5" y="5" width="28" height="28" fill="#f4f4f4" stroke="#9a9a9a"/><rect x="12" y="3" width="14" height="4" fill="#f4f4f4" stroke="#9a9a9a"/>
<path d="M11 14H27M11 20H27M11 26H27" stroke="#8a8a8a"/>
<path d="M77 34C60 20 62 6 70 5C74 5 76 7 77 10C78 7 80 5 84 5C92 6 94 20 77 34Z"/>
<path d="M146 3L128 23H138L133 35L152 15H141L150 3Z" stroke="#b0b0b0"/>
<circle cx="196" cy="19" r="15"/><path d="M196 12V19H203" stroke="#999" stroke-width="2.4"/>
<circle cx="253" cy="19" r="15" stroke-dasharray="4 4"/></svg>`

text('Laps', 2247, 736, 21, '#777', 'center')

function checkbox(y, on) {
    box(2011, y - 7, 15, 15, on ? 'background:#3f92f2;border-radius:3px;' : 'background:#f7f7f7;border-radius:3px;box-shadow:0 0 1px #aaa;')
    if (on) text('✓', 2013, y + 1, 13, '#fff', 'left', true)
}

checkbox(789, false)
text('Entire Workout', 2038, 789, 18, '#333', 'left')
text('15:36:46', 2253, 788, 22, '#333', 'left')
box(1996, 808, 484, 2, 'background:#d3d2d2;')

const lapY = [836, 877.4, 919.6, 961.4, 1005, 1045]
box(1996, 983.5, 484, 39, 'background:#a6d2f4;')
lapRows.forEach((r, i) => {
    let selected = i === 4
    checkbox(lapY[i], selected)
    text(r[0], 2038, lapY[i], 18, '#333', 'left', selected)
    text(r[1], 2253, lapY[i] - 1, 22, '#333', 'left', selected)
})
</script>
</body>
</html>
